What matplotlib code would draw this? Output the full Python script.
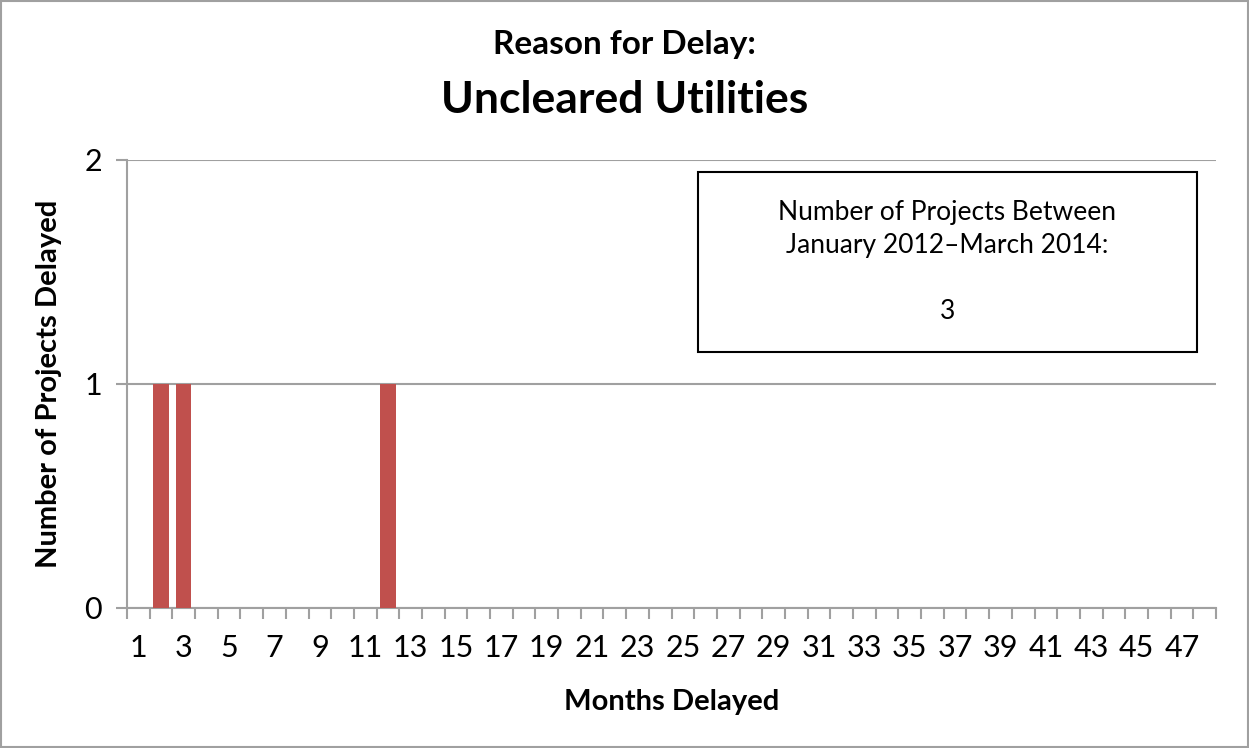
import matplotlib.pyplot as plt
from matplotlib.patches import Rectangle

## chart data
months = list(range(1, 49))
projects = [0] * 48
projects[1] = 1   # 2 months
projects[2] = 1   # 3 months
projects[11] = 1  # 12 months
tick_labels = [str(m) if m % 2 == 1 else '' for m in months]
total_projects = 3

plt.rcParams['font.family'] = ['Lato', 'DejaVu Sans']

fig = plt.figure(figsize=(12.49, 7.48), dpi=100)
fig.patch.set_facecolor('white')
fig.add_artist(Rectangle((0.0005, 0.0007), 0.999, 0.9986, transform=fig.transFigure,
                         fill=False, edgecolor='#a0a0a0', linewidth=1.5))

ax = fig.add_axes([0.1017, 0.1872, 0.8719, 0.5989])
ax.bar(months, projects, width=0.67, color='#c0504d', zorder=3)

ax.set_xlim(0.5, 48.5)
ax.set_ylim(0, 2)
ax.set_yticks([0, 1, 2])
ax.set_yticklabels(['0', '1', '2'], fontsize=22)
ax.set_xticks(months)
ax.set_xticklabels(tick_labels, fontsize=22)
ax.set_xticks([m + 0.5 for m in range(0, 49)], minor=True)
ax.tick_params(axis='x', which='major', length=0, pad=19)
ax.tick_params(axis='x', which='minor', length=8, color='#a0a0a0', width=1.5)
ax.tick_params(axis='y', length=8, color='#a0a0a0', width=1.5, pad=10)
ax.grid(axis='y', color='#a0a0a0', linewidth=1.5, zorder=0)

for side in ['top', 'right']:
    ax.spines[side].set_visible(False)
for side in ['left', 'bottom']:
    ax.spines[side].set_color('#a0a0a0')
    ax.spines[side].set_linewidth(1.5)

ax.set_xlabel('Months Delayed', fontsize=21, fontweight='bold', labelpad=19)
ax.set_ylabel('Number of Projects Delayed', fontsize=21, fontweight='bold', labelpad=16)

fig.text(0.5, 0.94, 'Reason for Delay:', ha='center', va='center', fontsize=24, fontweight='bold')
fig.text(0.5, 0.866, 'Uncleared Utilities', ha='center', va='center', fontsize=32, fontweight='bold')

## annotation box
fig.add_artist(Rectangle((698 / 1249, 1 - 352 / 748), 499 / 1249, 180 / 748,
                         transform=fig.transFigure, fill=True, facecolor='white',
                         edgecolor='black', linewidth=1.5, zorder=5))
fig.text(947.5 / 1249, 1 - 262 / 748,
         'Number of Projects Between\nJanuary 2012\u2013March 2014:\n\n' + str(total_projects),
         ha='center', va='center', fontsize=19, linespacing=1.4, zorder=6)

plt.savefig('out.png', format='png', dpi=100)
plt.close()
